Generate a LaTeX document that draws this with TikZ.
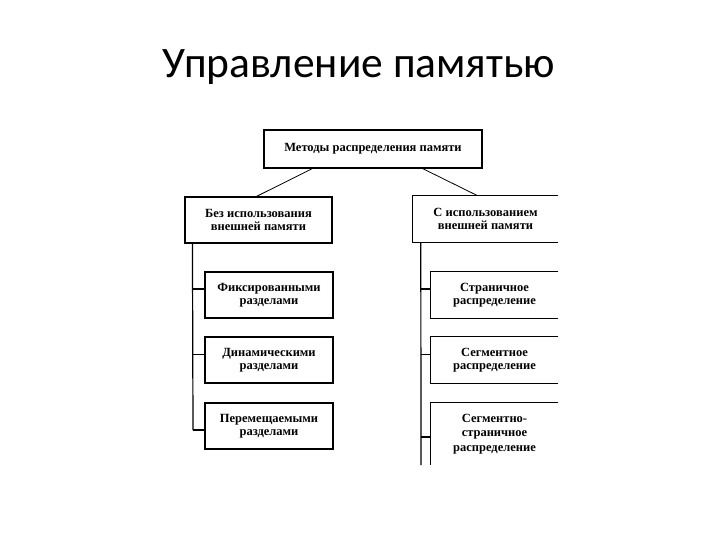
\documentclass[tikz,border=0pt]{standalone}
\usepackage{fontspec}
\setmainfont{Liberation Serif}
\newfontfamily\titlefont{Carlito}
\begin{document}
\begin{tikzpicture}[x=1pt,y=-1pt,
  box/.style={rectangle,inner sep=0pt,align=center,font=\bfseries\fontsize{12.5}{13}\selectfont},
  framed/.style={box,draw,line width=1.1pt},
  link/.style={line width=0.8pt},
  trunk/.style={line width=1.2pt},
  stub/.style={line width=1.5pt}]
\path[fill=white] (0,0) rectangle (720,540);
\node[anchor=base,font=\titlefont\fontsize{43.5}{48}\selectfont] (title) at (359,78) {Управление памятью};
% top
\node[framed,minimum width=218pt,minimum height=38pt] (top) at (373,149) {Методы распределения памяти};
% level 2
\node[framed,minimum width=147pt,minimum height=46pt] (L) at (258.5,220) {Без использования\\внешней памяти};
\node[box,minimum width=145pt,minimum height=46pt] (R) at (485.5,219) {С использованием\\внешней памяти};
\draw[line width=1.1pt] (R.north east) -- (R.north west) -- (R.south west) -- (R.south east);
% left children
\node[framed,minimum width=128pt,minimum height=46pt] (c1) at (269,295) {Фиксированными\\разделами};
\node[framed,minimum width=128pt,minimum height=46pt] (c2) at (269,360) {Динамическими\\разделами};
\node[framed,minimum width=128pt,minimum height=46pt] (c3) at (269,426) {Перемещаемыми\\разделами};
% right children
\node[box,minimum width=127pt,minimum height=46pt] (r1) at (494.5,295) {Страничное\\распределение};
\node[box,minimum width=127pt,minimum height=46pt] (r2) at (494.5,360) {Сегментное\\распределение};
\node[box,minimum width=127pt,minimum height=62pt,font=\bfseries\fontsize{12.5}{14.5}\selectfont] (r3) at (494.5,434) {Сегментно-\\страничное\\распределение};
\draw[line width=1.1pt] (r1.north east) -- (r1.north west) -- (r1.south west) -- (r1.south east);
\draw[line width=1.1pt] (r2.north east) -- (r2.north west) -- (r2.south west) -- (r2.south east);
\draw[line width=1.1pt] (r3.north east) -- (r3.north west) -- (r3.south west);
% diagonal links
\draw[link] ([xshift=49pt]top.south west) -- ([xshift=72pt]L.north west);
\draw[link] ([xshift=-60pt]top.south east) -- ([xshift=65pt]R.north west);
% left trunk
\coordinate (lb) at ([xshift=8pt]L.south west);
\coordinate (le) at (193,430);
\draw[trunk] (lb) -- (le);
\draw[stub] (lb |- 0,289) -- ([yshift=6pt]c1.west);
\draw[link] (lb |- 0,354) -- ([yshift=6pt]c2.west);
\draw[stub] (le) -- ([yshift=-4pt]c3.west);
% right trunk
\coordinate (rb) at ([xshift=8pt]R.south west);
\coordinate (re) at (421,465);
\draw[trunk] (rb) -- (re);
\draw[stub] (rb |- 0,289) -- ([yshift=6pt]r1.west);
\draw[link] (rb |- 0,354) -- ([yshift=6pt]r2.west);
\draw[stub] (rb |- 0,437) -- ([yshift=-3pt]r3.west);
\end{tikzpicture}
\end{document}
